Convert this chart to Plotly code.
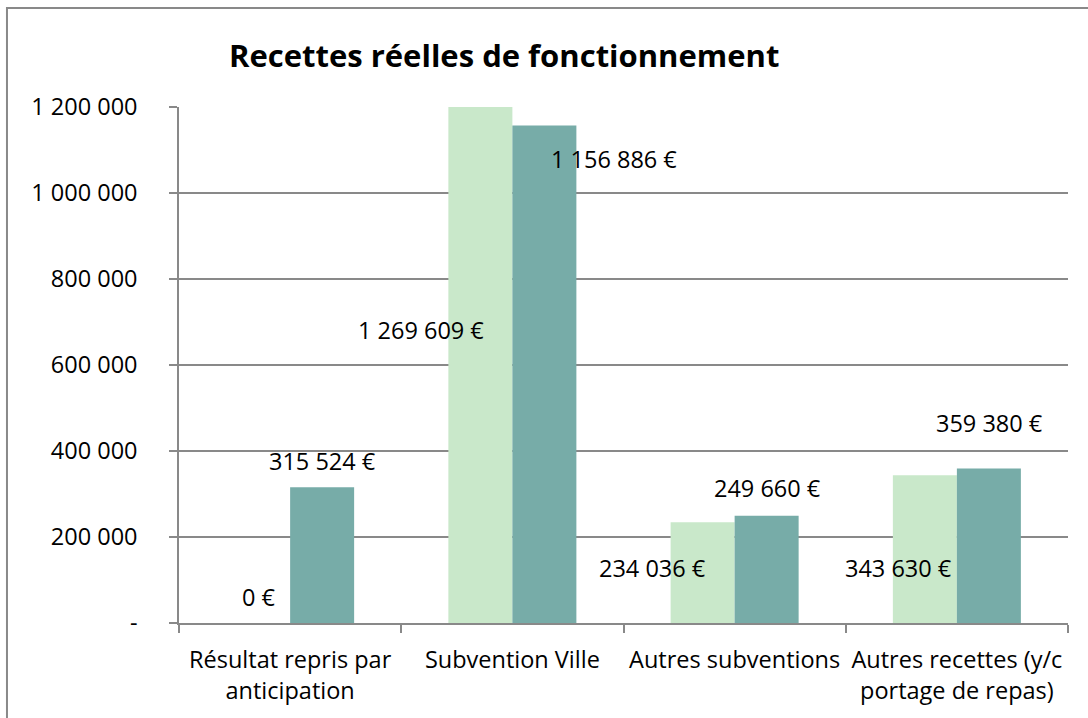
import plotly.graph_objects as go

categories = ["Résultat repris par<br>anticipation", "Subvention Ville",
              "Autres subventions", "Autres recettes (y/c<br>portage de repas)"]
series_a = [0, 1269609, 234036, 343630]
series_b = [315524, 1156886, 249660, 359380]
tick_vals = [0, 200000, 400000, 600000, 800000, 1000000, 1200000]
tick_text = ["-", "200 000", "400 000", "600 000", "800 000", "1 000 000", "1 200 000"]
title_text = "Recettes réelles de fonctionnement"
y_max = 1200000

# label placement offsets (pixels) mimicking the original manual label positions
label_dx_a = [-31, -91, -82, -58]
label_dy_a = [26, -223, -46, -93]
label_dx_b = [32, 102, 33, 33]
label_dy_b = [26, -33, 28, 45]

FONT = "Open Sans"
FS = 23.5
LIGHT = "#C9E8CA"
TEAL = "#77ACA8"
GREY = "#898989"


def euro(v):
    return f"{v:,}".replace(",", " ") + " €"


fig = go.Figure()
fig.add_trace(go.Bar(x=categories, y=series_a, marker=dict(color=LIGHT, line=dict(width=0)),
                     showlegend=False, hoverinfo="skip"))
fig.add_trace(go.Bar(x=categories, y=series_b, marker=dict(color=TEAL, line=dict(width=0)),
                     showlegend=False, hoverinfo="skip"))

annotations = []
for vals, dxs, dys in ((series_a, label_dx_a, label_dy_a), (series_b, label_dx_b, label_dy_b)):
    for c, v, dx, dy in zip(categories, vals, dxs, dys):
        annotations.append(dict(x=c, y=min(v, y_max), xref="x", yref="y", text=euro(v), showarrow=False,
                                xshift=dx, yshift=dy, xanchor="center", yanchor="middle",
                                font=dict(family=FONT, size=FS, color="#000000")))

annotations.append(dict(x=0.3656, y=1.10, xref="paper", yref="paper", text="<b>" + title_text + "</b>",
                        showarrow=False, xanchor="center", yanchor="middle",
                        font=dict(family=FONT, size=31, color="#000000")))

fig.update_layout(
    width=1088, height=718,
    margin=dict(l=179, r=20, t=107, b=95),
    paper_bgcolor="white", plot_bgcolor="white",
    barmode="group", bargap=0.424, bargroupgap=0,
    annotations=annotations,
    font=dict(family=FONT, size=FS, color="#000000"),
    shapes=[dict(type="rect", xref="paper", yref="paper", x0=-0.1935, x1=1.05, y0=-0.25, y1=1.1919,
                 line=dict(color=GREY, width=2), fillcolor="rgba(0,0,0,0)", layer="above")],
)
fig.update_yaxes(range=[0, y_max], tickvals=tick_vals, ticktext=tick_text,
                 showgrid=True, gridcolor=GREY, gridwidth=1.5,
                 showline=True, linecolor=GREY, linewidth=1.5,
                 ticks="outside", ticklen=8, tickcolor=GREY, tickwidth=1.5,
                 ticklabelstandoff=27, zeroline=False,
                 tickfont=dict(family=FONT, size=FS, color="#000000"))
fig.update_xaxes(showline=True, linecolor=GREY, linewidth=1.5,
                 ticks="outside", ticklen=8, tickcolor=GREY, tickwidth=1.5,
                 tickson="boundaries", showgrid=False,
                 ticklabelstandoff=15,
                 tickfont=dict(family=FONT, size=FS, color="#000000"))

fig.write_html("out.html", config={"displayModeBar": False},
               post_script="document.body.style.margin='0';document.body.style.overflow='hidden';")
